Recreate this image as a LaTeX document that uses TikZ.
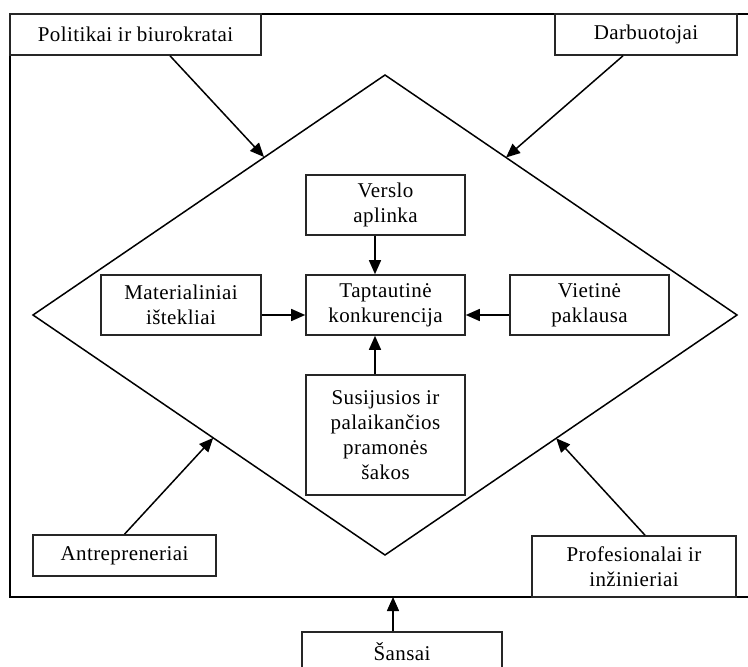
\documentclass[tikz,border=0pt]{standalone}
\usepackage{fontspec}
\setmainfont{Liberation Serif}[LetterSpace=2]
\usetikzlibrary{arrows.meta}
\begin{document}
\begin{tikzpicture}[x=1pt,y=-1pt,
  bx/.style={draw=black!85, line width=1.6pt, inner sep=0pt, align=center,
    font=\fontsize{21}{25}\selectfont},
  arr/.style={line width=1.5pt, -{Triangle[length=14pt,width=12pt]}},
  frame/.style={line width=1.5pt}]
\useasboundingbox (0,0) rectangle (748,667);
% outer frame
\draw[frame] (10,14) rectangle (756,597);
% diamond
\coordinate (dT) at (385,75);
\coordinate (dR) at (737,315);
\coordinate (dB) at (385,555);
\coordinate (dL) at (33,315);
\draw[frame] (dT) -- (dR) -- (dB) -- (dL) -- cycle;
% boxes
\node[bx, fill=white, minimum width=251pt, minimum height=41pt] (pol) at (135.5,34.5) {Politikai ir biurokratai};
\node[bx, fill=white, minimum width=182pt, minimum height=41pt] (dar) at (646,34.5) {Darbuotojai};
\node[bx, minimum width=159pt, minimum height=60pt] (vers) at (385.5,205) {Verslo\\aplinka};
\node[bx, minimum width=159pt, minimum height=60pt] (tap) at (385.5,305) {Taptautinė\\konkurencija};
\node[bx, minimum width=160pt, minimum height=60pt] (mat) at (181,305) {Materialiniai\\ištekliai};
\node[bx, minimum width=159pt, minimum height=60pt] (viet) at (589.5,305) {Vietinė\\paklausa};
\node[bx, minimum width=159pt, minimum height=120pt] (sus) at (385.5,435) {Susijusios ir\\palaikančios\\pramonės\\šakos};
\node[bx, fill=white, minimum width=183pt, minimum height=41pt] (antr) at (124.5,555.5) {Antrepreneriai};
\node[bx, fill=white, minimum width=204pt, minimum height=61pt] (prof) at (634,566.5) {Profesionalai ir\\inžinieriai};
\node[bx, fill=white, minimum width=200pt, minimum height=40pt] (san) at (402,652) {Šansai};
% arrow ends on the diamond / frame
\coordinate (ePol) at (264,157);
\coordinate (eDar) at (506,157.5);
\coordinate (eAnt) at (213.2,437.9);
\coordinate (ePro) at (556.2,438.3);
\coordinate (eSan) at (393,597);
% connectors
\draw[arr] ([xshift=34.5pt]pol.south) -- (ePol);
\draw[arr] ([xshift=-23pt]dar.south) -- (eDar);
\draw[arr] (antr.north) -- (eAnt);
\draw[arr] ([xshift=11pt]prof.north) -- (ePro);
\draw[arr] ([xshift=-9pt]san.north) -- (eSan);
\draw[arr] ([xshift=-10.5pt]vers.south) -- ([xshift=-10.5pt]tap.north);
\draw[arr] ([xshift=-10.5pt]sus.north) -- ([xshift=-10.5pt]tap.south);
\draw[arr] ([yshift=-10pt]mat.east) -- ([yshift=-10pt]tap.west);
\draw[arr] ([yshift=-10pt]viet.west) -- ([yshift=-10pt]tap.east);
\end{tikzpicture}
\end{document}
